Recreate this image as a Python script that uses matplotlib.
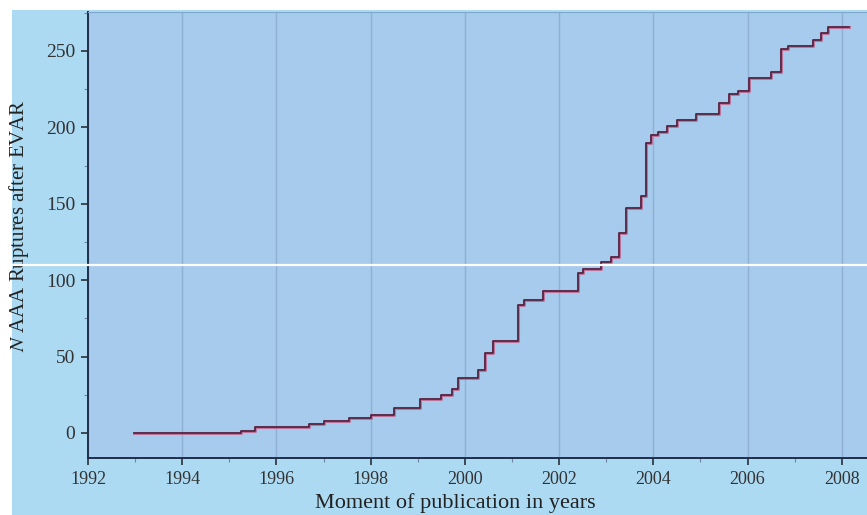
import matplotlib
matplotlib.use('Agg')
import matplotlib.pyplot as plt
from matplotlib.patches import Rectangle
from matplotlib.ticker import MultipleLocator

# cumulative AAA ruptures after EVAR
years = [1992.97, 1995.25, 1995.55, 1996.7, 1997.0, 1997.55, 1998.0, 1998.5,
         1999.05, 1999.5, 1999.73, 1999.85, 2000.27, 2000.42, 2000.6, 2001.12,
         2001.25, 2001.65, 2002.4, 2002.5, 2002.88, 2003.1, 2003.27, 2003.42,
         2003.74, 2003.85, 2003.95, 2004.1, 2004.3, 2004.5, 2004.9, 2005.4,
         2005.6, 2005.8, 2006.03, 2006.5, 2006.7, 2006.85, 2007.4, 2007.55,
         2007.7, 2008.15]
ruptures = [0, 1, 4, 6, 8, 10, 12, 16,
            22, 25, 29, 36, 41, 52, 60, 84,
            87, 93, 105, 107, 112, 115, 131, 147,
            155, 190, 195, 197, 201, 205, 209, 216,
            222, 224, 232, 236, 251, 253, 257, 262,
            266, 266]

x_ticks = [1992, 1994, 1996, 1998, 2000, 2002, 2004, 2006, 2008]
y_ticks = [0, 50, 100, 150, 200, 250]
white_line_y = 110  # scan artefact running across the picture

fig_bg = '#acdaf3'
ax_bg = '#a6cbec'
ink = '#2b2f3a'

plt.rcParams['font.family'] = ['Liberation Serif', 'DejaVu Serif']
plt.rcParams['mathtext.fontset'] = 'stix'

fig = plt.figure(figsize=(8.67, 5.15), dpi=100, facecolor='white')
fig.patches.append(Rectangle((12 / 867, 0), 1, 1 - 10 / 515, transform=fig.transFigure,
                             facecolor=fig_bg, edgecolor='none', zorder=-5))
ax = fig.add_axes([88 / 867, 1 - 458 / 515, 1 - 88 / 867 + 0.01, (458 - 12) / 515])
ax.set_facecolor(ax_bg)

ax.step(years, ruptures, where='post', color='#c8507a', lw=2.2, alpha=0.7, zorder=3)
ax.step(years, ruptures, where='post', color='#4a2340', lw=1.2, zorder=4)

ax.set_xlim(1992, 2008.72)
ax.set_ylim(-16.4, 275.5)
ax.set_xticks(x_ticks)
ax.set_yticks(y_ticks)
ax.xaxis.set_minor_locator(MultipleLocator(1))
ax.yaxis.set_minor_locator(MultipleLocator(25))
ax.grid(axis='x', which='major', color='#8fb0d2', lw=1.0)
ax.set_axisbelow(True)

ax.tick_params(which='major', length=5, width=1.2, color=ink, labelcolor='#333333', pad=4)
ax.tick_params(axis='x', which='major', labelsize=13)
ax.tick_params(axis='y', which='major', labelsize=14)
ax.tick_params(which='minor', length=3, width=0.8, color='#6f86a8')

for s in ['left', 'bottom']:
    ax.spines[s].set_color('#1f2e4a')
    ax.spines[s].set_linewidth(1.4)
ax.spines['top'].set_color('#7fa6cc')
ax.spines['right'].set_visible(False)

ax.set_xlabel('Moment of publication in years', fontsize=16, color='#222222')
ax.xaxis.set_label_coords((451 - 88) / 779, -0.079)
ax.set_ylabel(r'$\it{N}$ AAA Ruptures after EVAR', fontsize=15, color='#222222')
ax.yaxis.set_label_coords(-0.073, 0.52)

ax.axhline(white_line_y, xmin=-0.2, xmax=1.1, color='white', lw=1.6, clip_on=False, zorder=6)

fig.savefig('out.png', dpi=100, facecolor=fig.get_facecolor())
